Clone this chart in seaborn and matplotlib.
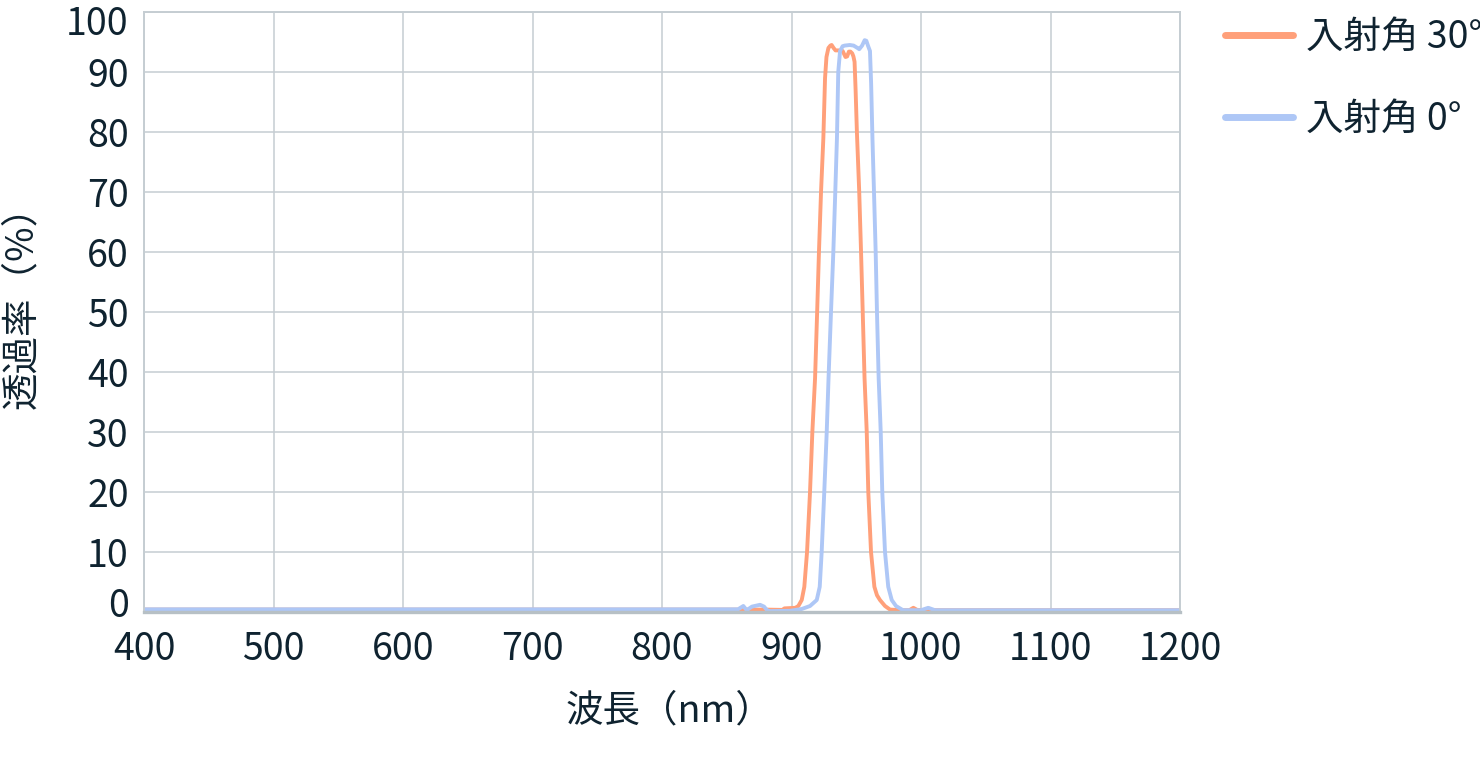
import numpy as np
import pandas as pd
import matplotlib
matplotlib.use("Agg")
import matplotlib.pyplot as plt
from matplotlib.transforms import ScaledTranslation
import seaborn as sns

# ---- data ----
series_names = ["入射角 30°", "入射角 0°"]

wl_30 = [400, 600, 800, 880, 893, 894.5, 903, 905.3, 907.9, 909.9, 912.0, 914.3,
         916.1, 918.2, 919.8, 921.2, 922.8, 924.6, 925.9, 927.0, 928.5, 930.0,
         931.0, 932.5, 934.0, 936.5, 939.5, 941.7, 943.0, 944.3, 945.5, 946.9,
         947.8, 948.7, 949.5, 950.5, 952.3, 953.7, 955.0, 956.4, 958.1, 959.3,
         961.4, 964.0, 966.0, 968.3, 972.2, 976.1, 985.0, 991.0, 994.1, 997.0,
         1000.0, 1100.0, 1200.0]
t_30 = [0.4, 0.4, 0.4, 0.4, 0.35, 0.6, 0.7, 1.0, 2.0, 4.2, 10, 20,
        30, 39, 50, 60, 70, 79, 89, 92.5, 94.0, 94.4,
        94.5, 94.0, 93.6, 93.6, 93.5, 92.5, 92.6, 93.4, 93.4, 93.1,
        92.6, 91.7, 87, 80, 70, 60, 50, 39, 30, 20,
        10, 4.2, 2.8, 2.0, 1.0, 0.4, 0.3, 0.3, 0.7, 0.35,
        0.3, 0.3, 0.3]

wl_0 = [400, 600, 800, 858.7, 862.8, 865.4, 869.5, 875.7, 878.8, 881.1, 883.4,
        898.8, 907.9, 914.3, 919.5, 921.8, 923.3, 925.3, 927.2, 928.6, 930.5,
        932.3, 933.8, 935.1, 936.1, 937.5, 939.5, 941.0, 945.0, 948.0, 951.0,
        952.3, 954.5, 956.5, 957.8, 959.2, 960.6, 961.5, 962.5, 963.7, 965.0,
        966.0, 967.3, 968.9, 970.1, 972.2, 974.7, 977.4, 980.7, 986.1, 1000.0,
        1005.6, 1010.8, 1100.0, 1200.0]
t_0 = [0.45, 0.45, 0.45, 0.45, 1.0, 0.3, 0.9, 1.2, 0.9, 0.3, 0.15,
       0.2, 0.5, 1.0, 2.0, 4.2, 10, 20, 30, 39, 50,
       60, 70, 79, 90, 93.5, 94.3, 94.4, 94.5, 94.4, 94.0,
       93.8, 94.4, 95.3, 95.2, 94.3, 93.5, 88, 79, 70, 60,
       50, 39, 30, 20, 10, 4.2, 2.0, 1.0, 0.3, 0.3,
       0.7, 0.3, 0.3, 0.3]

x_ticks = [400, 500, 600, 700, 800, 900, 1000, 1100, 1200]
y_ticks = [0, 10, 20, 30, 40, 50, 60, 70, 80, 90, 100]
x_label = "波長（nm）"
y_label = "透過率（%）"
colors = ["#ffa07a", "#aec7f6"]

df = pd.concat([
    pd.DataFrame({"wl": wl_30, "t": t_30, "series": series_names[0]}),
    pd.DataFrame({"wl": wl_0, "t": t_0, "series": series_names[1]}),
], ignore_index=True)

# ---- style ----
sns.set_theme(style="white")
plt.rcParams["font.family"] = ["Noto Sans CJK JP", "DejaVu Sans"]
text_color = "#0f2330"
grid_color = "#c5cdd2"
fs = 27

fig = plt.figure(figsize=(14.8, 7.6), dpi=100)
ax = fig.add_axes([144 / 1480, 1 - 612 / 760, 1036 / 1480, 600 / 760])

sns.lineplot(data=df, x="wl", y="t", hue="series", hue_order=series_names,
             palette=colors, estimator=None, sort=False, linewidth=2.8, ax=ax)

ax.set_xlim(400, 1200)
ax.set_ylim(0, 100)
ax.set_xticks(x_ticks)
ax.set_yticks(y_ticks)
ax.grid(True, color=grid_color, linewidth=1.1)
ax.set_axisbelow(True)
for side in ["top", "left", "right"]:
    ax.spines[side].set_color(grid_color)
    ax.spines[side].set_linewidth(1.4)
ax.spines["bottom"].set_color("#b7c0c5")
ax.spines["bottom"].set_linewidth(2.4)

ax.tick_params(axis="both", length=0, labelsize=fs, colors=text_color)
ax.tick_params(axis="x", pad=13)
ax.tick_params(axis="y", pad=11)

# end labels nudged inside, as in the reference
ylabels = ax.get_yticklabels()
ylabels[0].set_transform(ylabels[0].get_transform() + ScaledTranslation(0, 10 / 100, fig.dpi_scale_trans))
ylabels[-1].set_transform(ylabels[-1].get_transform() + ScaledTranslation(0, -8 / 100, fig.dpi_scale_trans))

ax.set_xlabel(x_label, fontsize=fs, color=text_color)
ax.set_ylabel(y_label, fontsize=fs, color=text_color)
ax.xaxis.set_label_coords(0.507, -0.133)
ax.yaxis.set_label_coords(-0.099, 0.523)

leg = ax.legend(loc="upper left", bbox_to_anchor=(1.0435, 0.99), frameon=False,
                fontsize=fs, handlelength=1.8, handletextpad=0.35,
                labelspacing=1.15, borderpad=0, borderaxespad=0)
for line in leg.get_lines():
    line.set_linewidth(5)
for t in leg.get_texts():
    t.set_color(text_color)

fig.savefig("out.png", dpi=100)
